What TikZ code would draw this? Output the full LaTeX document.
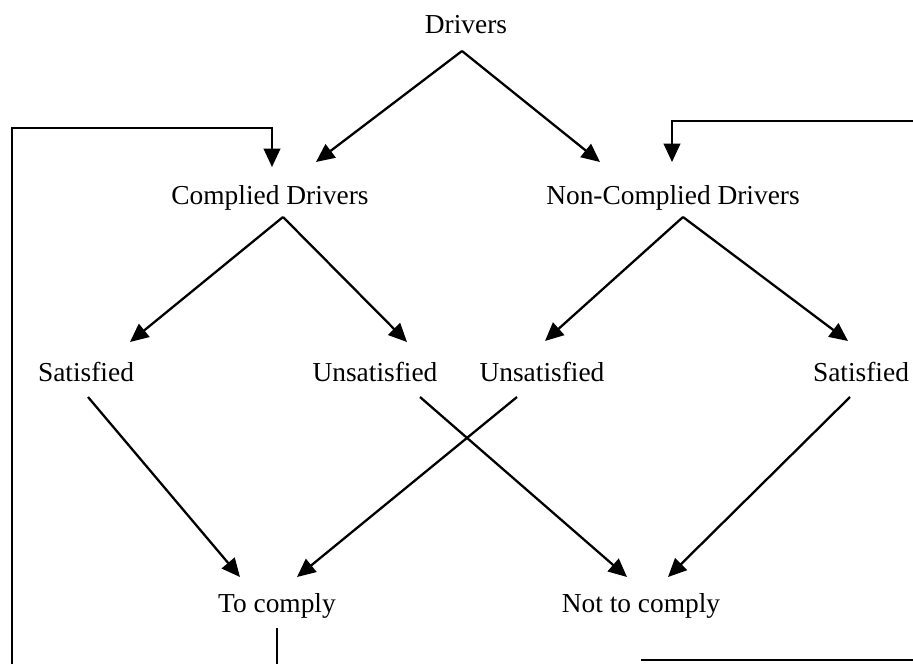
\documentclass[tikz,border=0pt]{standalone}
\usepackage{fontspec}
\setmainfont{Liberation Serif}
\usetikzlibrary{arrows.meta}

\begin{document}
\begin{tikzpicture}[x=0.02cm,y=-0.02cm,line width=1.3pt,
  >={Triangle[length=10.5pt,width=9.5pt]},
  font=\fontsize{15.6}{18}\selectfont,
  lbl/.style={anchor=base,inner sep=0pt},
  loopline/.style={line width=1.1pt}]
\useasboundingbox (0,0) rectangle (913,664);
% labels, one per level
\node[lbl] (drv) at (466,33) {Drivers};
\node[lbl] (cdrv) at (270,204) {Complied Drivers};
\node[lbl] (ncdrv) at (673,204) {Non-Complied Drivers};
\node[lbl] (satc) at (86,381) {Satisfied};
\node[lbl] (unsatc) at (375,381) {Unsatisfied};
\node[lbl] (unsatn) at (542,381) {Unsatisfied};
\node[lbl] (satn) at (861,381) {Satisfied};
\node[lbl] (comply) at (277,612) {To comply};
\node[lbl] (nocomply) at (641,612) {Not to comply};
% branching points and arrow ends
\coordinate (drv-top) at (462,51);
\coordinate (cdrv-top) at (283,217);
\coordinate (ncdrv-top) at (683,217);
\coordinate (cdrv-in) at (316,162);
\coordinate (ncdrv-in) at (600,162);
\coordinate (satc-in) at (130,342);
\coordinate (unsatc-in) at (407,342);
\coordinate (unsatn-in) at (545,341);
\coordinate (satn-in) at (848,341);
\coordinate (satc-out) at (88,397);
\coordinate (unsatc-out) at (420,397);
\coordinate (unsatn-out) at (517,397);
\coordinate (satn-out) at (850,397);
\coordinate (comply-l) at (240,577);
\coordinate (comply-r) at (297,577);
\coordinate (nocomply-l) at (627,577);
\coordinate (nocomply-r) at (668,577);
\draw[->] (drv-top) -- (cdrv-in);
\draw[->] (drv-top) -- (ncdrv-in);
\draw[->] (cdrv-top) -- (satc-in);
\draw[->] (cdrv-top) -- (unsatc-in);
\draw[->] (ncdrv-top) -- (unsatn-in);
\draw[->] (ncdrv-top) -- (satn-in);
\draw[->] (satc-out) -- (comply-l);
\draw[->] (unsatn-out) -- (comply-r);
\draw[->] (unsatc-out) -- (nocomply-l);
\draw[->] (satn-out) -- (nocomply-r);
% feedback loops
\coordinate (fb-left) at (12,664);
\coordinate (fb-right) at (913,121);
\coordinate (comply-down) at (277,664);
\coordinate (nocomply-fb) at (641,660);
\draw[->,loopline] (fb-left) |- (272,128) -- (272,167);
\draw[->,loopline] (fb-right) -| (672,162);
\draw[line width=0.7pt] (comply.south) ++(0,-5pt) -- (comply-down);
\draw[loopline] (nocomply-fb) -- (913,660);
\end{tikzpicture}
\end{document}
